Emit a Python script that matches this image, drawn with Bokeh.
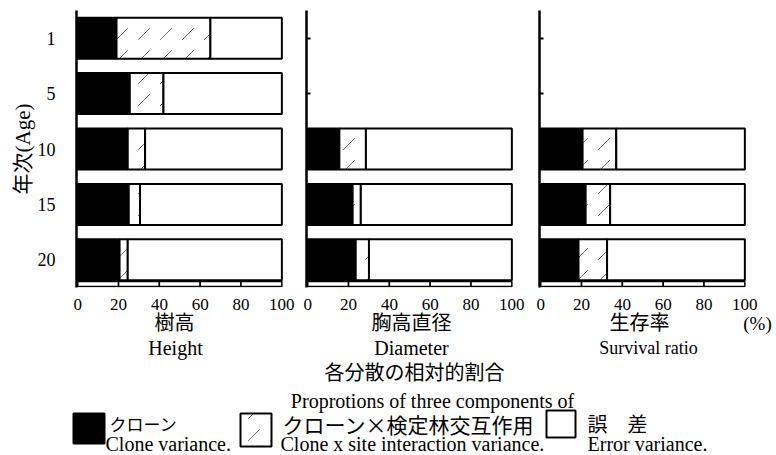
from bokeh.plotting import figure
from bokeh.layouts import row, column
from bokeh.models import Range1d, FixedTicker
from bokeh.core.properties import value
from bokeh.embed import file_html
from bokeh.resources import INLINE

# ---------------- data ----------------
AGES = ["1", "5", "10", "15", "20"]
X_TICKS = [0, 20, 40, 60, 80, 100]
X_LABELS = [str(t) for t in X_TICKS]

PANEL_JA = ["樹高", "胸高直径", "生存率"]
PANEL_EN = ["Height", "Diameter", "Survival ratio"]

HEIGHT_AGES = ["1", "5", "10", "15", "20"]
HEIGHT_CLONE = [19, 25.5, 24.5, 25, 20.5]
HEIGHT_INTER = [46, 16.5, 8.5, 5.5, 4]

DIAM_AGES = ["10", "15", "20"]
DIAM_CLONE = [15.5, 22, 23.5]
DIAM_INTER = [13, 4, 6.5]

SURV_AGES = ["10", "15", "20"]
SURV_CLONE = [20.5, 22, 18.5]
SURV_INTER = [16.5, 12, 14]

Y_TITLE = "年次(Age)"
MAIN_JA = "各分散の相対的割合"
MAIN_EN = "Proprotions of three components of"
UNIT = "(%)"
LEGEND_JA = ["クローン", "クローン×検定林交互作用", "誤　差"]
LEGEND_EN = ["Clone variance.", "Clone x site interaction variance.", "Error variance."]

# ---------------- style / layout ----------------
SERIF = "Liberation Serif"
CJK = "Noto Sans CJK JP"
BAR_H = 0.74
HATCH = dict(hatch_pattern="right_diagonal_dash", hatch_scale=22, hatch_weight=0.8,
             hatch_color="#444444")
W, H = 776, 455
TOP_B, FRAME_H, BOT_B = 10, 277, 4
PANEL_H = TOP_B + FRAME_H + BOT_B
X_START, X_END = -0.6, 100.8
FRAME_W = 207
# (figure width, left border, right border) of the three panels
PANEL_BOX = [(293, 76, 10), (233, 13, 13), (250, 13, 30)]


def ypos(age):
    return len(AGES) - AGES.index(age) - 0.5


def panel(ages, clone, inter, box, first=False):
    width, left_b, right_b = box
    p = figure(width=width, height=PANEL_H, x_range=Range1d(X_START, X_END),
               y_range=Range1d(0, 5), output_backend="svg", toolbar_location=None,
               min_border_left=left_b, min_border_right=right_b,
               min_border_top=TOP_B, min_border_bottom=BOT_B)
    p.outline_line_color = None
    p.grid.visible = False
    p.xaxis.visible = False
    p.background_fill_color = "white"

    y = [ypos(a) for a in ages]
    iend = [c + i for c, i in zip(clone, inter)]
    p.hbar(y=y, left=0, right=clone, height=BAR_H, fill_color="black",
           line_color="black", line_width=2)
    p.hbar(y=y, left=clone, right=iend, height=BAR_H, fill_color="white",
           line_color="black", line_width=2, **HATCH)
    p.hbar(y=y, left=iend, right=100, height=BAR_H, fill_color="white",
           line_color="black", line_width=2)

    # axis strip with divisions at the ticks
    p.quad(left=X_TICKS[:-1], right=X_TICKS[1:], bottom=0.02, top=0.11,
           fill_color="white", line_color="black", line_width=1.5)

    ya = p.yaxis[0]
    ya.ticker = FixedTicker(ticks=[ypos(a) for a in AGES])
    ya.axis_line_width = 2.5
    ya.axis_line_color = "black"
    ya.major_tick_in = 4
    ya.major_tick_out = 0
    ya.major_tick_line_width = 2
    ya.minor_tick_line_color = None
    if first:
        ya.major_label_overrides = {ypos(a): a for a in AGES}
        ya.major_label_standoff = 21
        ya.major_label_text_font = SERIF
        ya.major_label_text_font_size = "18px"
        ya.major_label_text_color = "black"
        ya.axis_label = Y_TITLE
        ya.axis_label_standoff = 0
        ya.axis_label_text_font = SERIF + ", " + CJK
        ya.axis_label_text_font_size = "21px"
        ya.axis_label_text_font_style = "normal"
        ya.axis_label_text_color = "black"
    else:
        ya.major_label_overrides = {ypos(a): "" for a in AGES}
        ya.major_label_standoff = 0
    return p


f1 = panel(HEIGHT_AGES, HEIGHT_CLONE, HEIGHT_INTER, PANEL_BOX[0], first=True)
f2 = panel(DIAM_AGES, DIAM_CLONE, DIAM_INTER, PANEL_BOX[1])
f3 = panel(SURV_AGES, SURV_CLONE, SURV_INTER, PANEL_BOX[2])

# ---------------- lower canvas: x tick labels, captions, legend ----------------
FB_H = H - PANEL_H
fb = figure(width=W, height=FB_H, x_range=Range1d(0, W), y_range=Range1d(FB_H, 0),
            output_backend="svg", toolbar_location=None, min_border=0)
fb.axis.visible = False
fb.grid.visible = False
fb.outline_line_color = None

# one x range per panel, aligned with that panel's frame
scale = FRAME_W / (X_END - X_START)
left_px = 0
for i, (width, left_b, right_b) in enumerate(PANEL_BOX):
    fl = left_px + left_b
    name = "p%d" % i
    fb.extra_x_ranges[name] = Range1d(X_START - fl / scale, X_START + (W - fl) / scale)
    fb.text(x=X_TICKS, y=[13] * len(X_TICKS), text=X_LABELS, x_range_name=name,
            text_font=value(SERIF), text_font_size="17px", text_align="center",
            text_baseline="middle", text_color="black")
    left_px += width

fb.text(x=[174, 411, 639], y=[30] * 3, text=PANEL_JA, text_font=value(CJK),
        text_font_size="20px", text_align="center", text_baseline="middle", text_color="black")
fb.text(x=[175, 411, 648], y=[56] * 3, text=PANEL_EN, text_font=value(SERIF),
        text_font_size=["20px", "20px", "18px"], text_align="center", text_baseline="middle",
        text_color="black")
fb.text(x=[757], y=[32], text=[UNIT], text_font=value(SERIF), text_font_size="19px",
        text_align="center", text_baseline="middle", text_color="black")

fb.text(x=[414], y=[80], text=[MAIN_JA], text_font=value(CJK), text_font_size="20px",
        text_align="center", text_baseline="middle", text_color="black")
fb.text(x=[432], y=[109], text=[MAIN_EN], text_font=value(SERIF), text_font_size="20px",
        text_align="center", text_baseline="middle", text_color="black")

fb.quad(left=[73], right=[104], top=[122], bottom=[152],
        fill_color="black", line_color="black", line_width=2)
fb.quad(left=[240], right=[271], top=[122], bottom=[155],
        fill_color="white", line_color="black", line_width=2, **HATCH)
fb.quad(left=[546], right=[575], top=[119], bottom=[146],
        fill_color="white", line_color="black", line_width=2)

fb.text(x=[109, 282, 587], y=[132] * 3, text=LEGEND_JA, text_font=value(CJK),
        text_font_size=["17px", "21px", "20px"], text_align="left", text_baseline="middle",
        text_color="black")
fb.text(x=[105, 280, 587], y=[152] * 3, text=LEGEND_EN, text_font=value(SERIF),
        text_font_size="20px", text_align="left", text_baseline="middle",
        text_color="black")

layout = column(row(f1, f2, f3), fb)
open("out.html", "w").write(file_html(layout, INLINE))
